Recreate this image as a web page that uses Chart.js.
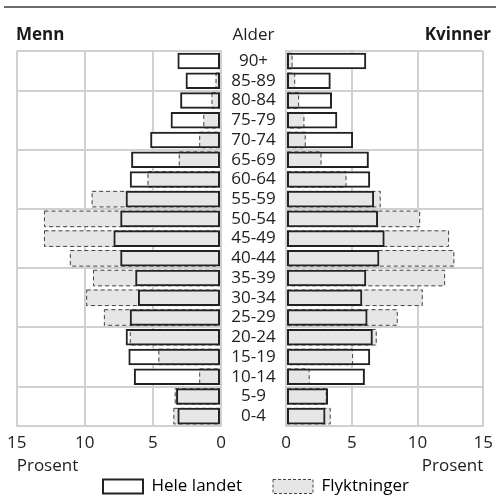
<!DOCTYPE html>
<html>
<head>
<meta charset="utf-8">
<script src="https://cdn.jsdelivr.net/npm/chart.js@4.4.1/dist/chart.umd.min.js"></script>
<style>
  body { margin: 0; background: #fff; }
  #wrap { position: relative; width: 500px; height: 499px; }
  #wrap canvas { position: absolute; left: 0; top: 0; }
</style>
</head>
<body>
<div id="wrap">
  <canvas id="menn" width="500" height="499"></canvas>
  <canvas id="kvinner" width="500" height="499"></canvas>
</div>
<script>
// age groups, top to bottom
var ages = ['90+', '85-89', '80-84', '75-79', '70-74', '65-69', '60-64', '55-59', '50-54',
            '45-49', '40-44', '35-39', '30-34', '25-29', '20-24', '15-19', '10-14', '5-9', '0-4'];

// percent of population
var mennHele     = [3.2, 2.6, 3.0, 3.7, 5.2, 6.6, 6.7, 7.0, 7.4, 7.9, 7.4, 6.3, 6.1, 6.7, 7.0, 6.8, 6.4, 3.3, 3.2];
var mennFlykt    = [0.2, 0.4, 0.7, 1.3, 1.6, 3.1, 5.4, 9.5, 13.0, 13.0, 11.1, 9.4, 9.9, 8.6, 6.7, 4.6, 1.6, 3.4, 3.5];
var kvinnerHele  = [6.1, 3.4, 3.5, 3.9, 5.1, 6.3, 6.4, 6.7, 7.0, 7.5, 7.1, 6.1, 5.8, 6.2, 6.6, 6.4, 6.0, 3.2, 3.0];
var kvinnerFlykt = [0.5, 0.7, 1.0, 1.4, 1.5, 2.7, 4.6, 7.2, 10.2, 12.4, 12.8, 12.1, 10.4, 8.5, 6.9, 5.1, 1.8, 3.1, 3.4];

var xTicks = [0, 5, 10, 15];
var gridRows = [0, 2, 5, 8, 11, 14, 17];   // which row borders get a line

var FONT = "'Open Sans', sans-serif";
var FS = 17;
Chart.defaults.font.family = FONT;
Chart.defaults.font.size = FS;
Chart.defaults.color = '#222';

var GRID = '#d0d0d0';
var GREY = '#e6e6e6';
var LEFT_END = 221;     // right edge of men's plot
var RIGHT_START = 286;  // left edge of women's plot
var AGE_X = 253.5;

var m = document.createElement('canvas').getContext('2d');
m.font = FS + 'px ' + FONT;
var widest = Math.max.apply(null, ages.map(function(a){ return m.measureText(a).width; }));
var heleW = m.measureText('Hele landet').width;
var leftBoxRight = 2 * 103 + 40 + FS / 2 + heleW - 16;   // centred legend item starts at x=103

function gridColor(c) {
  if (c.index === undefined || gridRows.indexOf(c.index) >= 0) return GRID;
  return 'rgba(0,0,0,0)';
}

function makeSets(hele, flykt, sign) {
  return [
    { label: 'Hele landet', data: hele.map(function(v){ return sign * v; }),
      backgroundColor: '#fff', borderWidth: 0, order: 3 },
    { label: 'Flyktninger', data: flykt.map(function(v){ return sign * v; }),
      backgroundColor: GREY, borderWidth: 0, order: 2, dashed: true },
    { label: 'Hele landet', data: hele.map(function(v){ return sign * v; }),
      backgroundColor: 'rgba(0,0,0,0)', borderColor: '#222', borderWidth: 2,
      borderSkipped: false, order: 1 }
  ];
}

var dashedBorder = {
  id: 'dashedBorder',
  afterDatasetDraw: function(chart, args) {
    if (!chart.data.datasets[args.index].dashed) return;
    var ctx = chart.ctx;
    ctx.save();
    ctx.setLineDash([4, 3]);
    ctx.lineWidth = 1;
    ctx.strokeStyle = '#444';
    args.meta.data.forEach(function(bar) {
      var p = bar.getProps(['x', 'y', 'base', 'height'], true);
      var l = Math.min(p.x, p.base), w = Math.abs(p.x - p.base);
      ctx.strokeRect(l + 0.5, p.y - p.height / 2 + 0.5, w - 1, p.height - 1);
    });
    ctx.restore();
  }
};

var topRule = {
  id: 'topRule',
  beforeDraw: function(chart) {
    var ctx = chart.ctx;
    ctx.save();
    ctx.strokeStyle = '#6b6b6b';
    ctx.lineWidth = 2;
    ctx.beginPath();
    ctx.moveTo(4, 7);
    ctx.lineTo(496, 7);
    ctx.stroke();
    ctx.restore();
  }
};

var alderLabel = {
  id: 'alderLabel',
  afterDraw: function(chart) {
    var ctx = chart.ctx, t = chart.titleBlock;
    ctx.save();
    ctx.font = FS + 'px ' + FONT;
    ctx.fillStyle = '#222';
    ctx.textAlign = 'center';
    ctx.textBaseline = 'middle';
    ctx.fillText('Alder', AGE_X, t.top + FS * 1.2 / 2);
    ctx.restore();
  }
};

function baseOptions(side) {
  var left = side === 'menn';
  return {
    responsive: false,
    animation: false,
    indexAxis: 'y',
    layout: { padding: left ? { left: 16, right: 500 - leftBoxRight, top: 24.8, bottom: 1 }
                            : { left: 271, right: 9, top: 24.8, bottom: 1 } },
    datasets: { bar: { grouped: false, barPercentage: 0.84, categoryPercentage: 1 } },
    plugins: {
      title: {
        display: true,
        text: left ? 'Menn' : 'Kvinner',
        align: left ? 'start' : 'end',
        font: { size: FS, weight: 'bold' },
        color: '#1a1a1a',
        padding: { top: 0, bottom: 6 }
      },
      legend: {
        position: 'bottom',
        align: left ? 'center' : 'start',
        maxHeight: 22,
        labels: {
          boxWidth: 40,
          boxHeight: 14,
          padding: 2,
          color: '#222',
          generateLabels: function(chart) {
            if (left) {
              return [{ text: chart.data.datasets[2].label, fillStyle: '#fff', strokeStyle: '#222',
                        lineWidth: 2, datasetIndex: 2, hidden: false }];
            }
            return [{ text: chart.data.datasets[1].label, fillStyle: GREY, strokeStyle: '#444',
                      lineWidth: 1, lineDash: [3, 2], datasetIndex: 1, hidden: false }];
          }
        }
      },
      tooltip: { enabled: false }
    },
    scales: {
      x: {
        min: left ? -15 : 0,
        max: left ? 0 : 15,
        afterBuildTicks: function(s) {
          var t = xTicks.map(function(v){ return { value: left ? -v : v }; });
          if (left) t.reverse();
          s.ticks = t;
        },
        afterFit: function(s) { s.height = 50; },
        ticks: { padding: 7, callback: function(v) { return Math.abs(v); } },
        grid: { color: GRID, lineWidth: 2, drawTicks: false },
        border: { color: GRID, width: 2 },
        title: { display: true, text: 'Prosent', align: left ? 'start' : 'end',
                 padding: { top: 2, bottom: 0 } }
      },
      y: {
        position: left ? 'right' : 'left',
        grid: { color: gridColor, lineWidth: 2, drawTicks: false },
        border: { color: GRID, width: 2 },
        ticks: left ? { crossAlign: 'center', autoSkip: false, padding: AGE_X - LEFT_END - widest / 2 }
                    : { display: false },
        afterFit: function(s) {
          s.width = left ? leftBoxRight - LEFT_END : RIGHT_START - 271;
        }
      }
    }
  };
}

new Chart(document.getElementById('menn'), {
  type: 'bar',
  data: { labels: ages, datasets: makeSets(mennHele, mennFlykt, -1) },
  options: baseOptions('menn'),
  plugins: [topRule, dashedBorder, alderLabel]
});

new Chart(document.getElementById('kvinner'), {
  type: 'bar',
  data: { labels: ages, datasets: makeSets(kvinnerHele, kvinnerFlykt, 1) },
  options: baseOptions('kvinner'),
  plugins: [dashedBorder]
});
</script>
</body>
</html>
